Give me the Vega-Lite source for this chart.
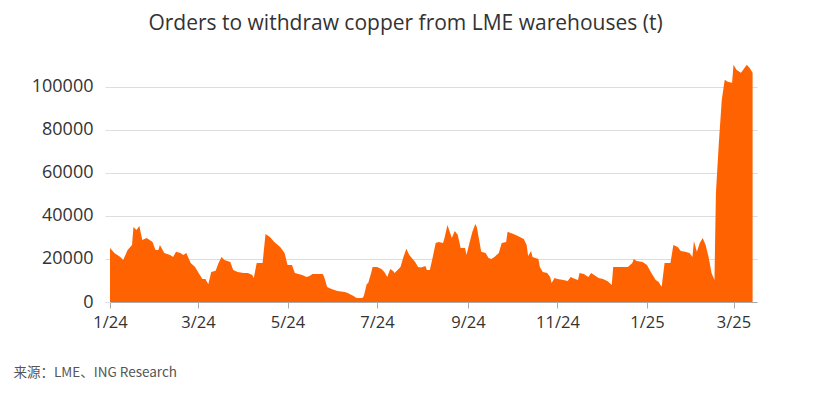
{
  "$schema": "https://vega.github.io/schema/vega-lite/v6.json",
  "width": 647,
  "height": 241,
  "autosize": {"type": "none"},
  "padding": {"left": 110, "top": 61, "right": 77, "bottom": 92},
  "background": "white",
  "title": {
    "text": "Orders to withdraw copper from LME warehouses (t)",
    "anchor": "middle",
    "frame": "group",
    "dx": -28,
    "offset": 27,
    "fontSize": 21,
    "font": "Open Sans",
    "fontWeight": "normal",
    "color": "#333333"
  },
  "config": {
    "view": {"stroke": null},
    "axis": {"labelFont": "Open Sans", "titleFont": "Noto Sans CJK SC"}
  },
  "data": {
    "values": [
      {"date": "2024-01-01", "t": 25100},
      {"date": "2024-01-04", "t": 22800},
      {"date": "2024-01-08", "t": 20900},
      {"date": "2024-01-10", "t": 19500},
      {"date": "2024-01-13", "t": 24200},
      {"date": "2024-01-16", "t": 26500},
      {"date": "2024-01-17", "t": 34900},
      {"date": "2024-01-19", "t": 33500},
      {"date": "2024-01-21", "t": 35300},
      {"date": "2024-01-23", "t": 28800},
      {"date": "2024-01-26", "t": 29800},
      {"date": "2024-01-30", "t": 27900},
      {"date": "2024-02-01", "t": 24200},
      {"date": "2024-02-03", "t": 24200},
      {"date": "2024-02-04", "t": 26500},
      {"date": "2024-02-07", "t": 22800},
      {"date": "2024-02-11", "t": 21900},
      {"date": "2024-02-13", "t": 20900},
      {"date": "2024-02-15", "t": 23300},
      {"date": "2024-02-18", "t": 22800},
      {"date": "2024-02-20", "t": 21900},
      {"date": "2024-02-22", "t": 22800},
      {"date": "2024-02-25", "t": 18100},
      {"date": "2024-02-28", "t": 16300},
      {"date": "2024-03-01", "t": 14000},
      {"date": "2024-03-04", "t": 10700},
      {"date": "2024-03-06", "t": 10700},
      {"date": "2024-03-08", "t": 8300},
      {"date": "2024-03-10", "t": 14000},
      {"date": "2024-03-13", "t": 14500},
      {"date": "2024-03-15", "t": 18100},
      {"date": "2024-03-17", "t": 20900},
      {"date": "2024-03-19", "t": 19500},
      {"date": "2024-03-23", "t": 18600},
      {"date": "2024-03-25", "t": 14900},
      {"date": "2024-03-28", "t": 14000},
      {"date": "2024-04-01", "t": 13500},
      {"date": "2024-04-04", "t": 13500},
      {"date": "2024-04-07", "t": 12600},
      {"date": "2024-04-08", "t": 11200},
      {"date": "2024-04-10", "t": 18100},
      {"date": "2024-04-14", "t": 18100},
      {"date": "2024-04-16", "t": 31600},
      {"date": "2024-04-19", "t": 30200},
      {"date": "2024-04-22", "t": 27900},
      {"date": "2024-04-26", "t": 25600},
      {"date": "2024-04-29", "t": 22800},
      {"date": "2024-05-01", "t": 17200},
      {"date": "2024-05-04", "t": 17200},
      {"date": "2024-05-06", "t": 13500},
      {"date": "2024-05-11", "t": 12600},
      {"date": "2024-05-14", "t": 11600},
      {"date": "2024-05-16", "t": 12100},
      {"date": "2024-05-18", "t": 13000},
      {"date": "2024-05-25", "t": 13000},
      {"date": "2024-05-26", "t": 11600},
      {"date": "2024-05-28", "t": 7000},
      {"date": "2024-05-31", "t": 6000},
      {"date": "2024-06-04", "t": 5100},
      {"date": "2024-06-09", "t": 4700},
      {"date": "2024-06-11", "t": 4200},
      {"date": "2024-06-15", "t": 2800},
      {"date": "2024-06-17", "t": 1900},
      {"date": "2024-06-21", "t": 1900},
      {"date": "2024-06-22", "t": 2800},
      {"date": "2024-06-24", "t": 8400},
      {"date": "2024-06-25", "t": 8800},
      {"date": "2024-06-27", "t": 13500},
      {"date": "2024-06-28", "t": 16300},
      {"date": "2024-07-01", "t": 16300},
      {"date": "2024-07-04", "t": 15300},
      {"date": "2024-07-06", "t": 14000},
      {"date": "2024-07-08", "t": 11600},
      {"date": "2024-07-10", "t": 15300},
      {"date": "2024-07-12", "t": 14400},
      {"date": "2024-07-13", "t": 13500},
      {"date": "2024-07-15", "t": 14900},
      {"date": "2024-07-17", "t": 16300},
      {"date": "2024-07-19", "t": 20900},
      {"date": "2024-07-21", "t": 24700},
      {"date": "2024-07-23", "t": 21900},
      {"date": "2024-07-27", "t": 18600},
      {"date": "2024-07-29", "t": 16300},
      {"date": "2024-07-31", "t": 16000},
      {"date": "2024-08-03", "t": 16700},
      {"date": "2024-08-04", "t": 14900},
      {"date": "2024-08-06", "t": 14900},
      {"date": "2024-08-08", "t": 20900},
      {"date": "2024-08-10", "t": 27400},
      {"date": "2024-08-12", "t": 27900},
      {"date": "2024-08-15", "t": 27400},
      {"date": "2024-08-16", "t": 29800},
      {"date": "2024-08-18", "t": 35800},
      {"date": "2024-08-21", "t": 29800},
      {"date": "2024-08-23", "t": 33000},
      {"date": "2024-08-25", "t": 31200},
      {"date": "2024-08-27", "t": 25100},
      {"date": "2024-08-30", "t": 25100},
      {"date": "2024-08-31", "t": 21900},
      {"date": "2024-09-02", "t": 27400},
      {"date": "2024-09-04", "t": 32600},
      {"date": "2024-09-06", "t": 36300},
      {"date": "2024-09-07", "t": 34900},
      {"date": "2024-09-09", "t": 27400},
      {"date": "2024-09-10", "t": 23300},
      {"date": "2024-09-13", "t": 22800},
      {"date": "2024-09-15", "t": 20500},
      {"date": "2024-09-17", "t": 20000},
      {"date": "2024-09-19", "t": 20900},
      {"date": "2024-09-22", "t": 22800},
      {"date": "2024-09-24", "t": 27400},
      {"date": "2024-09-27", "t": 27900},
      {"date": "2024-09-28", "t": 32600},
      {"date": "2024-10-02", "t": 31600},
      {"date": "2024-10-05", "t": 30700},
      {"date": "2024-10-09", "t": 29300},
      {"date": "2024-10-11", "t": 26500},
      {"date": "2024-10-12", "t": 21400},
      {"date": "2024-10-14", "t": 23700},
      {"date": "2024-10-15", "t": 20900},
      {"date": "2024-10-19", "t": 20000},
      {"date": "2024-10-20", "t": 16300},
      {"date": "2024-10-22", "t": 14000},
      {"date": "2024-10-25", "t": 13500},
      {"date": "2024-10-27", "t": 11600},
      {"date": "2024-10-28", "t": 8800},
      {"date": "2024-10-30", "t": 11200},
      {"date": "2024-11-01", "t": 10700},
      {"date": "2024-11-05", "t": 10200},
      {"date": "2024-11-08", "t": 9800},
      {"date": "2024-11-10", "t": 11600},
      {"date": "2024-11-13", "t": 10700},
      {"date": "2024-11-15", "t": 10200},
      {"date": "2024-11-16", "t": 13500},
      {"date": "2024-11-19", "t": 13000},
      {"date": "2024-11-22", "t": 11600},
      {"date": "2024-11-24", "t": 13500},
      {"date": "2024-11-27", "t": 12100},
      {"date": "2024-11-29", "t": 11200},
      {"date": "2024-12-02", "t": 10700},
      {"date": "2024-12-05", "t": 9800},
      {"date": "2024-12-08", "t": 7900},
      {"date": "2024-12-09", "t": 16300},
      {"date": "2024-12-14", "t": 16300},
      {"date": "2024-12-19", "t": 16300},
      {"date": "2024-12-22", "t": 18100},
      {"date": "2024-12-23", "t": 20000},
      {"date": "2024-12-25", "t": 19100},
      {"date": "2024-12-29", "t": 18600},
      {"date": "2025-01-01", "t": 17200},
      {"date": "2025-01-04", "t": 13500},
      {"date": "2025-01-07", "t": 10200},
      {"date": "2025-01-09", "t": 9300},
      {"date": "2025-01-11", "t": 7000},
      {"date": "2025-01-13", "t": 18100},
      {"date": "2025-01-17", "t": 18100},
      {"date": "2025-01-19", "t": 26500},
      {"date": "2025-01-22", "t": 25600},
      {"date": "2025-01-24", "t": 23700},
      {"date": "2025-01-27", "t": 23300},
      {"date": "2025-01-30", "t": 22800},
      {"date": "2025-02-01", "t": 20900},
      {"date": "2025-02-02", "t": 28400},
      {"date": "2025-02-04", "t": 23300},
      {"date": "2025-02-06", "t": 27400},
      {"date": "2025-02-08", "t": 29800},
      {"date": "2025-02-10", "t": 26500},
      {"date": "2025-02-12", "t": 20900},
      {"date": "2025-02-14", "t": 13500},
      {"date": "2025-02-16", "t": 10200},
      {"date": "2025-02-17", "t": 50700},
      {"date": "2025-02-19", "t": 74000},
      {"date": "2025-02-21", "t": 94000},
      {"date": "2025-02-23", "t": 103300},
      {"date": "2025-02-25", "t": 102300},
      {"date": "2025-02-28", "t": 101900},
      {"date": "2025-03-01", "t": 110200},
      {"date": "2025-03-03", "t": 107900},
      {"date": "2025-03-06", "t": 106500},
      {"date": "2025-03-07", "t": 107400},
      {"date": "2025-03-10", "t": 110200},
      {"date": "2025-03-12", "t": 108800},
      {"date": "2025-03-14", "t": 106500}
    ]
  },
  "mark": {"type": "area", "color": "#FF6200", "interpolate": "linear"},
  "encoding": {
    "x": {
      "field": "date",
      "type": "temporal",
      "scale": {
        "type": "utc",
        "domain": [
          {"year": 2024, "month": 1, "date": 1, "utc": true},
          {"year": 2025, "month": 3, "date": 17, "utc": true}
        ]
      },
      "axis": {
        "title": "来源：LME、ING Research",
        "titleFontSize": 13.5,
        "titleFontWeight": "normal",
        "titleColor": "#555555",
        "titleAnchor": null,
        "titleAlign": "left",
        "titleBaseline": "middle",
        "titleX": -97,
        "titleY": 70,
        "format": "%-m/%y",
        "tickCount": {"interval": "month", "step": 2},
        "labelFontSize": 16.5,
        "labelColor": "#333333",
        "labelPadding": 6,
        "labelFlush": false,
        "labelOverlap": false,
        "domainColor": "#aaaaaa",
        "tickColor": "#aaaaaa",
        "tickSize": 6,
        "grid": false
      }
    },
    "y": {
      "field": "t",
      "type": "quantitative",
      "scale": {"domain": [0, 112000], "nice": false},
      "axis": {
        "title": null,
        "values": [0, 20000, 40000, 60000, 80000, 100000],
        "format": "d",
        "labelFontSize": 18,
        "labelColor": "#333333",
        "labelPadding": 12,
        "domain": false,
        "tickColor": "#dddddd",
        "tickSize": 5,
        "gridColor": "#dcdcdc",
        "gridWidth": 1
      }
    }
  }
}
